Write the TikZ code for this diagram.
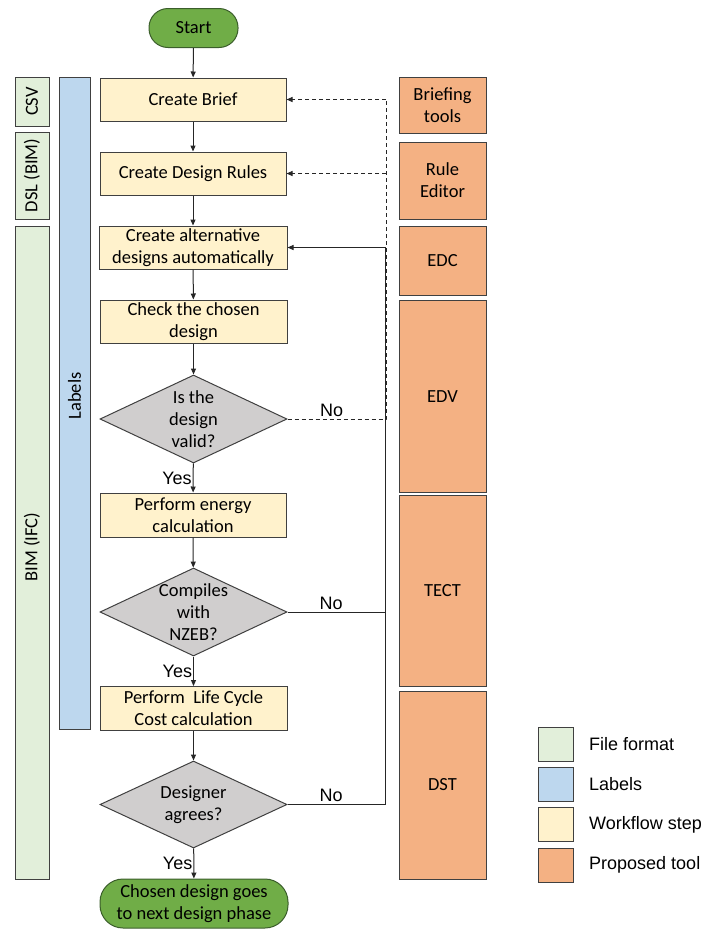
\documentclass[tikz,border=0pt]{standalone}
\usepackage{fontspec}
\setmainfont{Carlito}
\newfontfamily\arialf{Liberation Sans}
\usetikzlibrary{shapes.geometric,arrows.meta}
\definecolor{termfill}{HTML}{70AD47}
\definecolor{termdraw}{HTML}{3B5E2B}
\definecolor{ylw}{HTML}{FFF2CC}
\definecolor{orng}{HTML}{F4B183}
\definecolor{lblue}{HTML}{BDD7EE}
\definecolor{lgreen}{HTML}{E2EFDA}
\definecolor{dgrey}{HTML}{D0CECE}
\definecolor{bord}{HTML}{404040}
\begin{document}
\begin{tikzpicture}[x=1pt,y=-1pt,
  boxfont/.style={font=\fontsize{18.5}{22}\selectfont},
  lblfont/.style={font=\arialf\fontsize{18}{22}\selectfont},
  flow/.style={draw=bord, line width=1pt, fill=ylw, minimum width=186pt, minimum height=43pt, inner sep=0pt, align=center, boxfont},
  term/.style={draw=termdraw, line width=1pt, fill=termfill, rounded corners=19pt, inner sep=0pt, align=center, boxfont},
  dec/.style={diamond, draw=bord, line width=1pt, fill=dgrey, minimum width=187pt, minimum height=88pt, inner sep=0pt},
  dtext/.style={align=center, boxfont, inner sep=0pt},
  tool/.style={draw=bord, line width=1pt, fill=orng, minimum width=87pt, inner sep=0pt, align=center, boxfont},
  fmt/.style={draw=bord, line width=1pt, fill=lgreen, minimum width=34pt, inner sep=0pt},
  lbar/.style={draw=bord, line width=1pt, fill=lblue, minimum width=31pt, inner sep=0pt},
  legbox/.style={draw=bord, line width=1pt, minimum width=35pt, minimum height=34pt, inner sep=0pt},
  legtext/.style={anchor=west, lblfont, inner sep=0pt},
  arr/.style={draw=black!85, line width=1pt, -{Triangle[length=6pt,width=5pt]}},
  conn/.style={draw=black!85, line width=1pt},
  dline/.style={draw=black!85, line width=1pt, dash pattern=on 4pt off 3pt},
  nolbl/.style={lblfont, above, inner sep=2pt, xshift=-5pt},
  yeslbl/.style={lblfont, left, inner sep=1pt}
]
\useasboundingbox (0,0) rectangle (705,929);

% left bars
\node[fmt, minimum height=49pt] (csv) at (32,101.5) {};
\node[rotate=90, boxfont] (csvt) at (csv) {CSV};
\node[fmt, minimum height=87pt] (dsl) at (32,175.5) {};
\node[rotate=90, boxfont] (dslt) at (dsl) {DSL (BIM)};
\node[fmt, minimum height=653pt] (bim) at (32,552.5) {};
\node[rotate=90, boxfont] (bimt) at (32,547) {BIM (IFC)};
\node[lbar, minimum height=652pt] (labels) at (74.5,403) {};
\node[rotate=90, boxfont] (labelst) at (74.5,396) {Labels};

% main flow
\node[term, minimum width=89pt, minimum height=39pt] (start) at (193.5,28) {Start};
\node[flow] (brief) at (193,99.5) {Create Brief};
\node[flow] (rules) at (193,173.5) {Create Design Rules};
\node[flow, minimum width=188pt] (alt) at (193,247.5) {Create alternative\\designs automatically};
\node[flow, minimum width=187pt] (check) at (193.5,321.5) {Check the chosen\\design};
\node[dec] (d1) at (193.5,419) {};
\node[dtext] (d1t) at (d1) {Is the\\design\\valid?};
\node[flow, minimum height=44pt] (energy) at (193,515) {Perform energy\\calculation};
\node[dec] (d2) at (193.5,612) {};
\node[dtext] (d2t) at (d2) {Compiles\\with\\NZEB?};
\node[flow, minimum width=187pt, minimum height=44pt] (lcc) at (193.5,708.5) {Perform\ \ Life Cycle\\Cost calculation};
\node[dec, minimum height=87pt] (d3) at (193.5,804.5) {};
\node[dtext] (d3t) at (d3) {Designer\\agrees?};
\node[term, minimum width=188pt, minimum height=49pt, rounded corners=23pt] (end) at (194,903.5) {Chosen design goes\\to next design phase};

% right tools
\node[tool, minimum height=56pt] (brt) at (442.5,105) {Briefing\\tools};
\node[tool, minimum height=77pt] (red) at (442.5,180.5) {Rule\\Editor};
\node[tool, minimum height=69pt] (edc) at (442.5,260.5) {EDC};
\node[tool, minimum height=192pt] (edv) at (442.5,396) {};
\node[boxfont] (edvt) at (442.5,397) {EDV};
\node[tool, minimum height=191pt] (tect) at (442.5,590.5) {TECT};
\node[tool, minimum height=188pt] (dst) at (442.5,785) {DST};

% legend
\node[legbox, fill=lgreen] (lg1) at (555.5,744) {};
\node[legtext] (lg1t) at (589,744) {File format};
\node[legbox, fill=lblue] (lg2) at (555.5,784) {};
\node[legtext] (lg2t) at (589,784) {Labels};
\node[legbox, fill=ylw] (lg3) at (555.5,824.5) {};
\node[legtext] (lg3t) at (589,824.5) {Workflow step};
\node[legbox, fill=orng] (lg4) at (555.5,865) {};
\node[legtext] (lg4t) at (589,865) {Proposed tool};

% rails
\coordinate (drail) at (386,0);
\coordinate (srail) at (385,0);

% main arrows
\draw[arr] (start) -- (brief);
\draw[arr] (brief) -- (rules);
\draw[arr] (rules) -- (alt);
\draw[arr] (alt) -- (check);
\draw[arr] (check) -- (d1);
\draw[arr] (d1) -- node[yeslbl]{Yes} (energy);
\draw[arr] (energy) -- (d2);
\draw[arr] (d2) -- node[yeslbl]{Yes} (lcc);
\draw[arr] (lcc) -- (d3);
\draw[arr] (d3) -- node[yeslbl]{Yes} (end);

% dashed feedback
\draw[dline] (d1.east) -- node[nolbl]{No} (d1.east -| drail) -- (drail |- brief.east);
\draw[dline, -{Triangle[length=6pt,width=5pt]}] (drail |- brief.east) -- (brief.east);
\draw[dline, -{Triangle[length=6pt,width=5pt]}] (drail |- rules.east) -- (rules.east);

% solid feedback
\draw[conn] (d2.east) -- node[nolbl]{No} (d2.east -| srail);
\draw[arr] (d3.east) -- node[nolbl]{No} (d3.east -| srail) -- (srail |- alt.east) -- (alt.east);
\end{tikzpicture}
\end{document}
